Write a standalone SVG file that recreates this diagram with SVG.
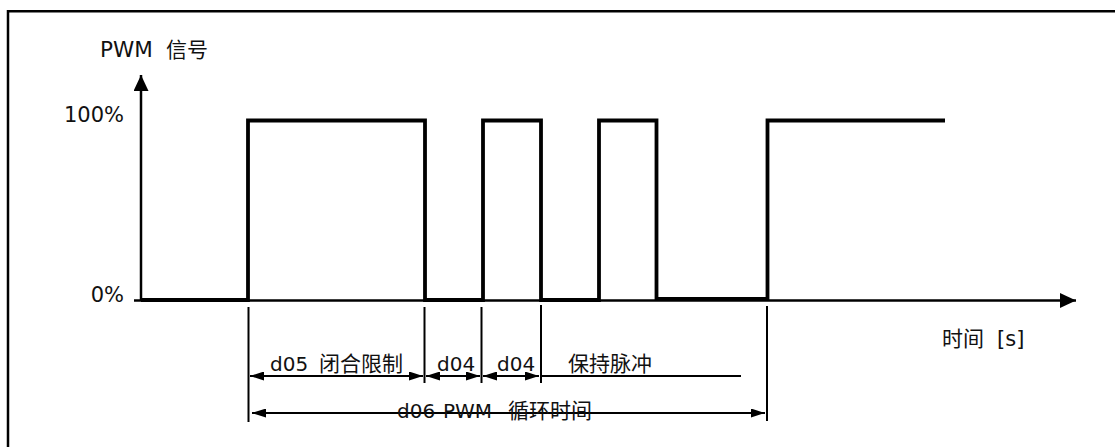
<svg xmlns="http://www.w3.org/2000/svg" width="1115" height="447" viewBox="0 0 1115 447">
<style>
.t{font-family:"DejaVu Sans","Noto Sans CJK SC",sans-serif;font-size:20px;fill:#111}
.c{font-family:"Noto Sans CJK SC",sans-serif;font-size:21px}
.ext{stroke:#000;stroke-width:2;fill:none}
.dim{stroke:#000;stroke-width:2.2;fill:none}
</style>
<defs>
<marker id="ah" viewBox="0 0 14 9" refX="14" refY="4.5" markerWidth="14" markerHeight="9" markerUnits="userSpaceOnUse" orient="auto-start-reverse">
<path d="M0,0 L14,4.5 L0,9 Z" fill="#000"/>
</marker>
<marker id="axh" viewBox="0 0 16 15" refX="16" refY="7.5" markerWidth="16" markerHeight="15" markerUnits="userSpaceOnUse" orient="auto">
<path d="M0,0 L16,7.5 L0,15 Z" fill="#000"/>
</marker>
</defs>
<rect width="1115" height="447" fill="#fff"/>
<path d="M8,447 V11.3 H1115" stroke="#000" stroke-width="2.5" fill="none"/>
<g id="axes">
<line x1="141" y1="301" x2="141" y2="75" stroke="#000" stroke-width="2.5" marker-end="url(#axh)"/>
<line x1="134" y1="300.5" x2="1076" y2="300.5" stroke="#000" stroke-width="2.5" marker-end="url(#axh)"/>
<text class="t" x="100" y="57" style="font-size:21.5px">PWM<tspan class="c" x="166">信号</tspan></text>
<text class="t" x="124" y="122" text-anchor="end" style="font-size:21px">100%</text>
<text class="t" x="124" y="302" text-anchor="end" style="font-size:21px">0%</text>
<text class="c" x="942" y="346" style="fill:#111">时间<tspan class="t" x="997" style="font-size:21px">[s]</tspan></text>
</g>
<g id="signal">
<path d="M141,300 H248 V120.5 H425 V300 H483 V120.5 H541 V300 H599 V120.5 H656.5 V299 H767.5 V120.5 H945" stroke="#000" stroke-width="3.8" fill="none" stroke-linejoin="miter"/>
</g>
<g id="connectors">
<line class="ext" x1="248.5" y1="307" x2="248.5" y2="422"/>
<line class="ext" x1="424.5" y1="307" x2="424.5" y2="383"/>
<line class="ext" x1="481.5" y1="307" x2="481.5" y2="383"/>
<line class="ext" x1="541" y1="305" x2="541" y2="383"/>
<line class="ext" x1="767" y1="306" x2="767" y2="421"/>
<line class="dim" x1="250" y1="376" x2="423" y2="376" marker-start="url(#ah)" marker-end="url(#ah)"/>
<line class="dim" x1="426" y1="376" x2="480" y2="376" marker-start="url(#ah)" marker-end="url(#ah)"/>
<line class="dim" x1="483" y1="376" x2="539" y2="376" marker-start="url(#ah)" marker-end="url(#ah)"/>
<line class="dim" x1="541" y1="376" x2="741" y2="376"/>
<line class="dim" x1="252" y1="413" x2="765" y2="413" marker-start="url(#ah)" marker-end="url(#ah)"/>
</g>
<g id="labels">
<text class="t" x="270" y="371">d05<tspan class="c" x="319">闭合限制</tspan></text>
<text class="t" x="437" y="371">d04</text>
<text class="t" x="497" y="371">d04</text>
<text class="c" x="568" y="371" style="fill:#111">保持脉冲</text>
<text class="t" x="397" y="418">d06<tspan x="443">PWM</tspan><tspan class="c" x="508">循环时间</tspan></text>
</g>
</svg>
